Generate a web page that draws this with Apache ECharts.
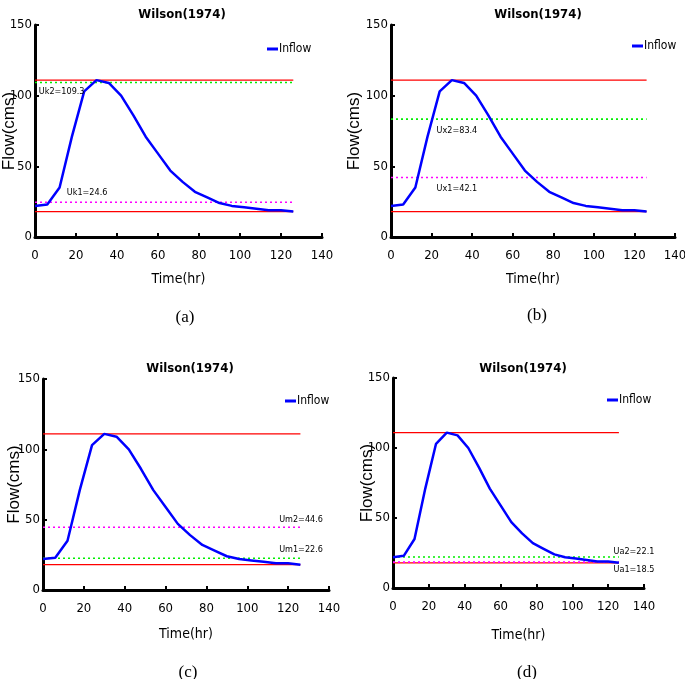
<!DOCTYPE html>
<html>
<head>
    <meta charset="utf-8">
    <title>Wilson(1974)</title>
    <script src="https://cdn.jsdelivr.net/npm/echarts@6/dist/echarts.min.js"></script>
    <style>
        html, body { margin: 0; padding: 0; background: #fff; }
        #main { width: 685px; height: 679px; }
    </style>
</head>
<body>
<div id="main"></div>
<script type="text/javascript">
    // Wilson(1974) 入流过程
    var times = [0, 6, 12, 18, 24, 30, 36, 42, 48, 54, 60, 66, 72, 78, 84, 90, 96, 102, 108, 114, 120, 126];
    var inflow = [22, 23, 35, 71, 103, 111, 109, 100, 86, 71, 59, 47, 39, 32, 28, 24, 22, 21, 20, 19, 19, 18];

    // 各子图阈值
    var panelTags = ['(a)', '(b)', '(c)', '(d)'];
    var upperNames = ['Uk2', 'Ux2', 'Um2', 'Ua2'];
    var upperValues = [109.3, 83.4, 44.6, 22.1];
    var lowerNames = ['Uk1', 'Ux1', 'Um1', 'Ua1'];
    var lowerValues = [24.6, 42.1, 22.6, 18.5];

    // 布局和样式
    var grids = [
        {left: 35, top: 25, width: 287, height: 212},
        {left: 391, top: 25, width: 284, height: 212},
        {left: 43, top: 379, width: 286, height: 211},
        {left: 393, top: 378, width: 251, height: 210}
    ];
    var upperColor = ['#00ee00', '#00ee00', '#ff00ff', '#00ee00'];
    var lowerColor = ['#ff00ff', '#ff00ff', '#00ee00', '#ff00ff'];
    var upperLabelAt = [[13, 102.6], [32.5, 75], [126.3, 49.8], [134.4, 25.7]];
    var lowerLabelAt = [[25.4, 31.1], [32.5, 34], [126.3, 28.4], [134.4, 12.9]];
    var yNameGap = [17, 28, 20, 17];
    var xNameGap = [35, 35, 37, 40];
    var legendPos = [[267, 43], [632, 40], [285, 395], [607, 394]];
    var titlePos = [[177, 3], [533, 3], [185, 357], [518, 357]];
    var tagPos = [[180, 304], [532, 302], [183, 659], [522, 659]];

    var narrow = "'DejaVu Sans Condensed', 'Liberation Sans Narrow', 'Liberation Sans', sans-serif";
    var tEnd = times[times.length - 1];
    var peak = Math.max.apply(null, inflow);
    var base = Math.min.apply(null, inflow);

    function pairs(xs, ys) {
        return xs.map(function (x, i) { return [x, ys[i]]; });
    }

    function flatLine(v) {
        return [[times[0], v], [tEnd, v]];
    }

    var option = {
        animation: false,
        title: [],
        legend: [],
        grid: [],
        xAxis: [],
        yAxis: [],
        series: []
    };

    grids.forEach(function (g, i) {
        option.grid.push({
            left: g.left, top: g.top, width: g.width, height: g.height,
            containLabel: false, outerBoundsMode: 'none'
        });
        option.title.push({
            text: 'Wilson(1974)',
            left: titlePos[i][0], top: titlePos[i][1], textAlign: 'center',
            textStyle: {fontFamily: narrow, fontSize: 13, fontWeight: 'bold', color: '#000'}
        });
        option.title.push({
            text: panelTags[i],
            left: tagPos[i][0], top: tagPos[i][1], textAlign: 'center',
            textStyle: {fontFamily: "'Liberation Serif', 'Times New Roman', serif", fontSize: 17, fontWeight: 'normal', color: '#000'}
        });
        option.legend.push({
            data: ['Inflow'],
            left: legendPos[i][0], top: legendPos[i][1],
            icon: 'rect', itemWidth: 11, itemHeight: 3, itemGap: 0,
            padding: 0,
            textStyle: {fontFamily: narrow, fontSize: 12, color: '#000', padding: [0, 0, 0, -4]}
        });
        option.xAxis.push({
            gridIndex: i, type: 'value', min: 0, max: 140, interval: 20,
            name: 'Time(hr)', nameLocation: 'middle', nameGap: xNameGap[i],
            nameMoveOverlap: false,
            nameTextStyle: {fontFamily: narrow, fontSize: 14, color: '#000'},
            axisLine: {show: true, onZero: false, lineStyle: {color: '#000', width: 3}},
            axisTick: {show: true, inside: true, length: 4, lineStyle: {color: '#000', width: 2}},
            axisLabel: {fontFamily: narrow, fontSize: 13, color: '#000', margin: 12},
            splitLine: {show: false}
        });
        option.yAxis.push({
            gridIndex: i, type: 'value', min: 0, max: 150, interval: 50,
            name: 'Flow(cms)', nameLocation: 'middle', nameGap: yNameGap[i],
            nameMoveOverlap: false,
            nameTextStyle: {fontFamily: "'Liberation Sans', Arial, sans-serif", fontSize: 17, color: '#000'},
            axisLine: {show: true, lineStyle: {color: '#000', width: 3}},
            axisTick: {show: true, inside: true, length: 4, lineStyle: {color: '#000', width: 2}},
            axisLabel: {fontFamily: narrow, fontSize: 13, color: '#000', margin: 3},
            splitLine: {show: false}
        });

        // 红色上下限
        [peak, base].forEach(function (v) {
            option.series.push({
                type: 'line', xAxisIndex: i, yAxisIndex: i, silent: true,
                data: flatLine(v), symbol: 'none',
                lineStyle: {color: '#ff0000', width: 1.3}, z: 2
            });
        });

        // 阈值虚线
        [
            {v: upperValues[i], c: upperColor[i], n: upperNames[i], at: upperLabelAt[i]},
            {v: lowerValues[i], c: lowerColor[i], n: lowerNames[i], at: lowerLabelAt[i]}
        ].forEach(function (t) {
            option.series.push({
                type: 'line', xAxisIndex: i, yAxisIndex: i, silent: true,
                data: flatLine(t.v), symbol: 'none',
                lineStyle: {color: t.c, width: 1.6, type: [2, 3]}, z: 3,
                markPoint: {
                    symbol: 'circle', symbolSize: 0, silent: true,
                    label: {show: true, position: 'inside', color: '#000', fontFamily: narrow, fontSize: 9},
                    data: [{coord: t.at, value: t.n + '=' + t.v}]
                }
            });
        });

        option.series.push({
            name: 'Inflow', type: 'line', xAxisIndex: i, yAxisIndex: i,
            data: pairs(times, inflow), symbol: 'none',
            lineStyle: {color: '#0000ff', width: 2.5}, itemStyle: {color: '#0000ff'}, z: 4
        });
    });

    var myChart = echarts.init(document.getElementById('main'));
    myChart.setOption(option);
</script>
</body>
</html>
